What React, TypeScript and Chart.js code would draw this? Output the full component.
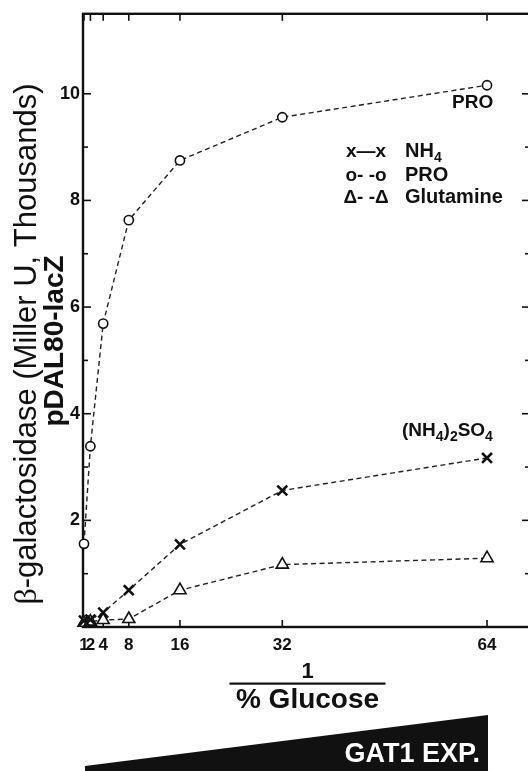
import React, { useEffect, useRef } from 'react';
import { Chart, registerables } from 'chart.js';

Chart.register(...registerables);

// ---- data ----
const xValues = [1, 2, 4, 8, 16, 32, 64];
const xTickValues = [1, 2, 4, 8, 16, 32, 64];
const proValues = [1.56, 3.39, 5.69, 7.63, 8.75, 9.56, 10.16];
const nh4Values = [0.12, 0.14, 0.27, 0.69, 1.55, 2.56, 3.17];
const glnValues = [0.08, 0.1, 0.13, 0.15, 0.69, 1.17, 1.29];
const yMajorTicks = [2, 4, 6, 8, 10];
const yMinorTicks = [1, 3, 5, 7, 9];

const yTitleBeta = 'β';
const yTitleRest = '-galactosidase (Miller U, Thousands)';
const yTitle2 = 'pDAL80-lacZ';
const xTitleTop = '1';
const xTitleBottom = '% Glucose';
const wedgeLabel = 'GAT1 EXP.';

const FONT = '"Liberation Sans", Arial, Helvetica, sans-serif';
const SERIF = '"Liberation Serif", "Times New Roman", serif';
const INK = '#111111';

type Part = [string, boolean];

function drawParts(ctx: CanvasRenderingContext2D, x: number, y: number, parts: Part[], size: number, subSize: number, subDrop: number) {
  let cx = x;
  for (const [t, sub] of parts) {
    ctx.font = `bold ${sub ? subSize : size}px ${FONT}`;
    ctx.fillText(t, cx, sub ? y + subDrop : y);
    cx += ctx.measureText(t).width;
  }
}

export default function App() {
  const ref = useRef<HTMLCanvasElement>(null);

  useEffect(() => {
    document.body.style.margin = '0';
    const canvas = ref.current;
    if (!canvas) return;

    const framePlugin = {
      id: 'frame',
      beforeDatasetsDraw(chart: any) {
        const { ctx, chartArea: a, scales } = chart;
        ctx.save();
        ctx.strokeStyle = INK;
        ctx.lineWidth = 2.4;
        ctx.strokeRect(a.left, a.top, a.right - a.left, a.bottom - a.top);
        ctx.lineWidth = 1.6;
        const seg = (x1: number, y1: number, x2: number, y2: number) => {
          ctx.beginPath();
          ctx.moveTo(x1, y1);
          ctx.lineTo(x2, y2);
          ctx.stroke();
        };
        for (const v of xTickValues) {
          const px = scales.x.getPixelForValue(v);
          seg(px, a.bottom, px, a.bottom - 7);
          seg(px, a.top, px, a.top + 7);
        }
        for (const v of yMajorTicks) {
          const py = scales.y.getPixelForValue(v);
          seg(a.left, py, a.left + 8, py);
          seg(a.right, py, a.right - 8, py);
        }
        for (const v of yMinorTicks) {
          const py = scales.y.getPixelForValue(v);
          seg(a.left, py, a.left + 5, py);
          seg(a.right, py, a.right - 5, py);
        }
        ctx.restore();
      },
    };

    const textPlugin = {
      id: 'texts',
      afterDraw(chart: any) {
        const { ctx, chartArea: a, scales } = chart;
        ctx.save();
        ctx.fillStyle = INK;
        ctx.textBaseline = 'alphabetic';

        // Y title line 1 (β in serif)
        ctx.save();
        ctx.translate(36, 344);
        ctx.rotate(-Math.PI / 2);
        ctx.font = `32px ${SERIF}`;
        const wb = ctx.measureText(yTitleBeta).width;
        ctx.font = `31px ${FONT}`;
        const wr = ctx.measureText(yTitleRest).width;
        const start = -(wb + wr) / 2;
        ctx.textAlign = 'left';
        ctx.font = `32px ${SERIF}`;
        ctx.fillText(yTitleBeta, start, 0);
        ctx.font = `31px ${FONT}`;
        ctx.fillText(yTitleRest, start + wb, 0);
        ctx.restore();

        // Y title line 2
        ctx.save();
        ctx.translate(63, 341);
        ctx.rotate(-Math.PI / 2);
        ctx.textAlign = 'center';
        ctx.font = `bold 28px ${FONT}`;
        ctx.fillText(yTitle2, 0, 0);
        ctx.restore();

        // X title fraction
        const cx = (a.left + a.right) / 2 + 1;
        ctx.textAlign = 'center';
        ctx.font = `bold 22px ${FONT}`;
        ctx.fillText(xTitleTop, cx, 678);
        ctx.fillRect(cx - 78, 682.5, 156, 2.2);
        ctx.font = `bold 28px ${FONT}`;
        ctx.fillText(xTitleBottom, cx, 708);

        // Wedge
        const wl = scales.x.getPixelForValue(1) + 1;
        const wr2 = scales.x.getPixelForValue(64) + 1;
        ctx.beginPath();
        ctx.moveTo(wl, 766);
        ctx.lineTo(wr2, 715);
        ctx.lineTo(wr2, 771);
        ctx.lineTo(wl, 771);
        ctx.closePath();
        ctx.fill();
        ctx.fillStyle = '#ffffff';
        ctx.textAlign = 'right';
        ctx.font = `bold 27px ${FONT}`;
        ctx.fillText(wedgeLabel, wr2 - 8, 762);
        ctx.fillStyle = INK;

        // Series labels
        ctx.textAlign = 'left';
        ctx.font = `bold 19px ${FONT}`;
        ctx.fillText('PRO', 452, 108);
        drawParts(ctx, 402, 436, [['(NH', false], ['4', true], [')', false], ['2', true], ['SO', false], ['4', true]], 19, 14, 5);

        // Legend
        ctx.textAlign = 'center';
        ctx.font = `bold 19px ${FONT}`;
        ctx.fillText('x—x', 366, 157);
        ctx.fillText('o- -o', 366, 181);
        ctx.fillText('Δ- -Δ', 366, 203);
        ctx.textAlign = 'left';
        drawParts(ctx, 405, 157, [['NH', false], ['4', true]], 20, 14, 5);
        ctx.font = `bold 20px ${FONT}`;
        ctx.fillText('PRO', 405, 181);
        ctx.fillText('Glutamine', 405, 203);

        ctx.restore();
      },
    };

    const lineStyle = {
      borderColor: '#222222',
      borderWidth: 1.4,
      borderDash: [5, 3.5],
      pointBorderColor: INK,
      pointBackgroundColor: '#ffffff',
      clip: false as any,
      tension: 0,
    };

    const chart = new Chart(canvas, {
      type: 'line',
      data: {
        datasets: [
          {
            label: 'NH4',
            data: xValues.map((x, i) => ({ x, y: nh4Values[i] })),
            ...lineStyle,
            pointStyle: 'crossRot',
            pointRadius: 7,
            pointBorderWidth: 2.6,
          },
          {
            label: 'PRO',
            data: xValues.map((x, i) => ({ x, y: proValues[i] })),
            ...lineStyle,
            pointStyle: 'circle',
            pointRadius: 4.6,
            pointBorderWidth: 1.6,
          },
          {
            label: 'Glutamine',
            data: xValues.map((x, i) => ({ x, y: glnValues[i] })),
            ...lineStyle,
            pointStyle: 'triangle',
            pointRadius: 7,
            pointBorderWidth: 1.6,
          },
        ],
      },
      options: {
        responsive: false,
        maintainAspectRatio: false,
        animation: false,
        layout: { padding: { left: 0, top: 9, right: 10, bottom: 0 } },
        plugins: { legend: { display: false }, tooltip: { enabled: false } },
        scales: {
          x: {
            type: 'linear',
            min: 0.844,
            max: 70.72,
            afterFit(s: any) {
              s.height = 144;
            },
            afterBuildTicks(s: any) {
              s.ticks = xTickValues.map((v) => ({ value: v }));
            },
            ticks: {
              autoSkip: false,
              maxRotation: 0,
              padding: 8,
              color: INK,
              font: { family: FONT, size: 17, weight: 'bold' },
            },
            grid: { display: false, drawTicks: false },
            border: { display: false },
          },
          y: {
            type: 'linear',
            min: 0,
            max: 11.5,
            afterFit(s: any) {
              s.width = 83;
            },
            afterBuildTicks(s: any) {
              s.ticks = yMajorTicks.map((v) => ({ value: v }));
            },
            ticks: {
              padding: 3,
              color: INK,
              font: { family: FONT, size: 18, weight: 'bold' },
            },
            grid: { display: false, drawTicks: false },
            border: { display: false },
          },
        },
      },
      plugins: [framePlugin, textPlugin],
    } as any);

    return () => chart.destroy();
  }, []);

  return (
    <div style={{ width: 528, height: 771, overflow: 'hidden', position: 'relative', background: '#ffffff' }}>
      <canvas ref={ref} width={540} height={771} style={{ display: 'block' }} />
    </div>
  );
}
